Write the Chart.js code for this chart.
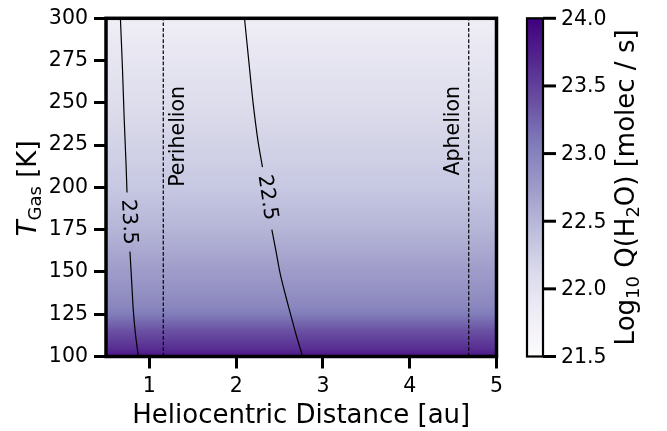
<!DOCTYPE html>
<html>
<head>
<meta charset="utf-8">
<script src="https://cdn.jsdelivr.net/npm/chart.js@4/dist/chart.umd.min.js"></script>
<style>
  html, body { margin: 0; padding: 0; background: #fff; }
  canvas { display: block; }
</style>
</head>
<body>
<canvas id="chart" width="667" height="431"></canvas>
<script>
// Axis ticks
const distanceTicks = [1, 2, 3, 4, 5];
const tempTicks = [100, 125, 150, 175, 200, 225, 250, 275, 300];
const colorbarTicks = [21.5, 22.0, 22.5, 23.0, 23.5, 24.0];

// Shaded production-rate field: log10 Q(H2O) against gas temperature
const gasTemp = [100, 105, 110, 115, 120, 125, 130, 140, 150, 175, 200, 225, 250, 275, 300];
const logQ    = [23.84, 23.63, 23.5, 23.38, 23.22, 23.06, 22.95, 22.84, 22.74, 22.51, 22.32, 22.2, 22.08, 21.94, 21.8];

// Contour levels traced as [distance (au), T (K)], null marks the label gap
const contourLevels = [23.5, 22.5];
const contour235 = [
  [0.666, 300], [0.69, 270], [0.71, 240], [0.73, 215], [0.742, 197],
  null,
  [0.776, 162], [0.795, 145], [0.815, 127], [0.84, 113], [0.873, 100]
];
const contour225 = [
  [2.096, 300], [2.145, 275], [2.195, 250], [2.25, 228], [2.303, 212],
  null,
  [2.411, 175], [2.46, 162], [2.507, 149], [2.58, 134], [2.622, 126], [2.69, 113], [2.766, 100]
];
// Contour label anchors: [distance, T, angle in degrees]
const contourLabelAnchors = [[0.76, 179.5, 87], [2.357, 194, 81.5]];

// Orbit extremes (au)
const perihelion = 1.16;
const aphelion = 4.68;
const orbitLabels = ['Perihelion', 'Aphelion'];
const orbitLabelAnchors = [[1.394, 260], [4.567, 260]];

const TMIN = 100, TMAX = 300, RMIN = 0.5, RMAX = 5;
const QMIN = 21.5, QMAX = 24.0;
const FONT = "'DejaVu Sans', 'Liberation Sans', sans-serif";

// matplotlib "Purples" colormap
const PURPLES = ['#fcfbfd', '#efedf5', '#dadaeb', '#bcbddc', '#9e9ac8', '#807dba', '#6a51a3', '#54278f', '#3f007d'];
function hexRgb(h) { return [1, 3, 5].map(i => parseInt(h.substr(i, 2), 16)); }
const PURPLES_RGB = PURPLES.map(hexRgb);
function purples(f) {
  f = Math.max(0, Math.min(1, f));
  const p = f * (PURPLES_RGB.length - 1);
  const i = Math.min(Math.floor(p), PURPLES_RGB.length - 2);
  const t = p - i;
  const a = PURPLES_RGB[i], b = PURPLES_RGB[i + 1];
  return 'rgb(' + a.map((v, k) => Math.round(v + (b[k] - v) * t)).join(',') + ')';
}
function qColor(q) { return purples((q - QMIN) / (QMAX - QMIN)); }

function toPoints(arr) {
  return arr.map(p => p ? { x: p[0], y: p[1] } : { x: null, y: null });
}

// Draws the shaded field under the datasets
const fieldPlugin = {
  id: 'field',
  beforeDatasetsDraw(chart) {
    const { ctx, scales: { x, y } } = chart;
    const y0 = y.getPixelForValue(gasTemp[0]);
    const y1 = y.getPixelForValue(gasTemp[gasTemp.length - 1]);
    const g = ctx.createLinearGradient(0, y0, 0, y1);
    gasTemp.forEach((t, i) => {
      g.addColorStop((y.getPixelForValue(t) - y0) / (y1 - y0), qColor(logQ[i]));
    });
    ctx.save();
    ctx.fillStyle = g;
    const xl = x.getPixelForValue(RMIN), xr = x.getPixelForValue(RMAX);
    ctx.fillRect(xl, y1, xr - xl, y0 - y1);
    ctx.restore();
  }
};

function drawRich(ctx, parts) {
  // parts: [text, size, italic, shift]
  let total = 0;
  parts.forEach(p => {
    ctx.font = (p[2] ? 'italic ' : '') + p[1] + 'px ' + FONT;
    p.w = ctx.measureText(p[0]).width;
    total += p.w;
  });
  let cx = -total / 2;
  parts.forEach(p => {
    ctx.font = (p[2] ? 'italic ' : '') + p[1] + 'px ' + FONT;
    ctx.fillText(p[0], cx, p[3]);
    cx += p.w;
  });
}

// Frame, labels, titles and colour bar
const decorPlugin = {
  id: 'decor',
  afterDatasetsDraw(chart) {
    const { ctx, chartArea: a, scales: { x, y } } = chart;
    ctx.save();
    ctx.fillStyle = '#000';

    // contour labels
    ctx.font = '20.5px ' + FONT;
    ctx.textAlign = 'center';
    ctx.textBaseline = 'middle';
    contourLabelAnchors.forEach((c, i) => {
      ctx.save();
      ctx.translate(x.getPixelForValue(c[0]), y.getPixelForValue(c[1]));
      ctx.rotate(c[2] * Math.PI / 180);
      ctx.fillText(contourLevels[i].toFixed(1), 0, 0);
      ctx.restore();
    });

    // orbit labels
    ctx.font = '20.5px ' + FONT;
    ctx.textAlign = 'right';
    ctx.textBaseline = 'alphabetic';
    orbitLabelAnchors.forEach((c, i) => {
      ctx.save();
      ctx.translate(x.getPixelForValue(c[0]), y.getPixelForValue(c[1]));
      ctx.rotate(-Math.PI / 2);
      ctx.fillText(orbitLabels[i], 0, 0);
      ctx.restore();
    });

    // axes frame
    ctx.strokeStyle = '#000';
    ctx.lineWidth = 3.5;
    ctx.strokeRect(a.left, a.top, a.right - a.left, a.bottom - a.top);

    // x title
    ctx.textAlign = 'center';
    ctx.textBaseline = 'alphabetic';
    ctx.font = '26px ' + FONT;
    ctx.fillText('Heliocentric Distance [au]', (a.left + a.right) / 2, 423);

    // y title
    ctx.save();
    ctx.translate(36, (a.top + a.bottom) / 2 + 1);
    ctx.rotate(-Math.PI / 2);
    ctx.textAlign = 'left';
    drawRich(ctx, [['T', 26, true, 0], ['Gas', 18, false, 5], [' [K]', 26, false, 0]]);
    ctx.restore();

    // colour bar
    const cbL = 527, cbR = 543;
    const cbY = q => a.bottom - (q - QMIN) / (QMAX - QMIN) * (a.bottom - a.top);
    const g = ctx.createLinearGradient(0, cbY(QMIN), 0, cbY(QMAX));
    for (let i = 0; i <= 32; i++) g.addColorStop(i / 32, purples(i / 32));
    ctx.fillStyle = g;
    ctx.fillRect(cbL, a.top, cbR - cbL, a.bottom - a.top);
    ctx.lineWidth = 2.2;
    ctx.strokeRect(cbL, a.top, cbR - cbL, a.bottom - a.top);
    ctx.lineWidth = 3;
    ctx.fillStyle = '#000';
    ctx.font = '20.5px ' + FONT;
    ctx.textAlign = 'left';
    ctx.textBaseline = 'middle';
    colorbarTicks.forEach(q => {
      const py = cbY(q);
      ctx.beginPath();
      ctx.moveTo(cbR, py);
      ctx.lineTo(cbR + 13, py);
      ctx.stroke();
      ctx.fillText(q.toFixed(1), cbR + 18, py + 1);
    });

    // colour bar title
    ctx.save();
    ctx.translate(634, (a.top + a.bottom) / 2);
    ctx.rotate(-Math.PI / 2);
    ctx.textAlign = 'left';
    ctx.textBaseline = 'alphabetic';
    drawRich(ctx, [['Log', 26, false, 0], ['10', 18, false, 5], [' Q(H', 26, false, 0], ['2', 18, false, 5], ['O) [molec / s]', 26, false, 0]]);
    ctx.restore();

    ctx.restore();
  }
};

const lineStyle = { showLine: true, pointRadius: 0, borderColor: '#000', fill: false, spanGaps: false };

const tickFont = { family: FONT, size: 20.5 };

new Chart(document.getElementById('chart'), {
  type: 'scatter',
  data: {
    datasets: [
      Object.assign({ data: toPoints(contour235), borderWidth: 1.2, tension: 0.3 }, lineStyle),
      Object.assign({ data: toPoints(contour225), borderWidth: 1.2, tension: 0.3 }, lineStyle),
      Object.assign({ data: [{ x: perihelion, y: TMIN }, { x: perihelion, y: TMAX }], borderWidth: 1.2, borderDash: [3.7, 1.9] }, lineStyle),
      Object.assign({ data: [{ x: aphelion, y: TMIN }, { x: aphelion, y: TMAX }], borderWidth: 1.2, borderDash: [3.7, 1.9] }, lineStyle)
    ]
  },
  options: {
    responsive: false,
    animation: false,
    devicePixelRatio: 1,
    layout: { padding: { top: 12, right: 170.5, left: 0, bottom: 0 } },
    plugins: { legend: { display: false }, tooltip: { enabled: false } },
    scales: {
      x: {
        type: 'linear', min: RMIN, max: RMAX,
        afterBuildTicks: s => { s.ticks = distanceTicks.map(v => ({ value: v })); },
        afterFit: s => { s.height = 74.5; },
        ticks: { font: tickFont, color: '#000', padding: 6, maxRotation: 0, callback: v => String(v) },
        grid: { drawOnChartArea: false, drawTicks: true, tickLength: 12, tickWidth: 3, tickColor: '#000' },
        border: { display: false }
      },
      y: {
        type: 'linear', min: TMIN, max: TMAX,
        afterBuildTicks: s => { s.ticks = tempTicks.map(v => ({ value: v })); },
        afterFit: s => { s.width = 106; },
        ticks: { font: tickFont, color: '#000', padding: 6, callback: v => String(v) },
        grid: { drawOnChartArea: false, drawTicks: true, tickLength: 12, tickWidth: 3, tickColor: '#000' },
        border: { display: false }
      }
    }
  },
  plugins: [fieldPlugin, decorPlugin]
});
</script>
</body>
</html>
